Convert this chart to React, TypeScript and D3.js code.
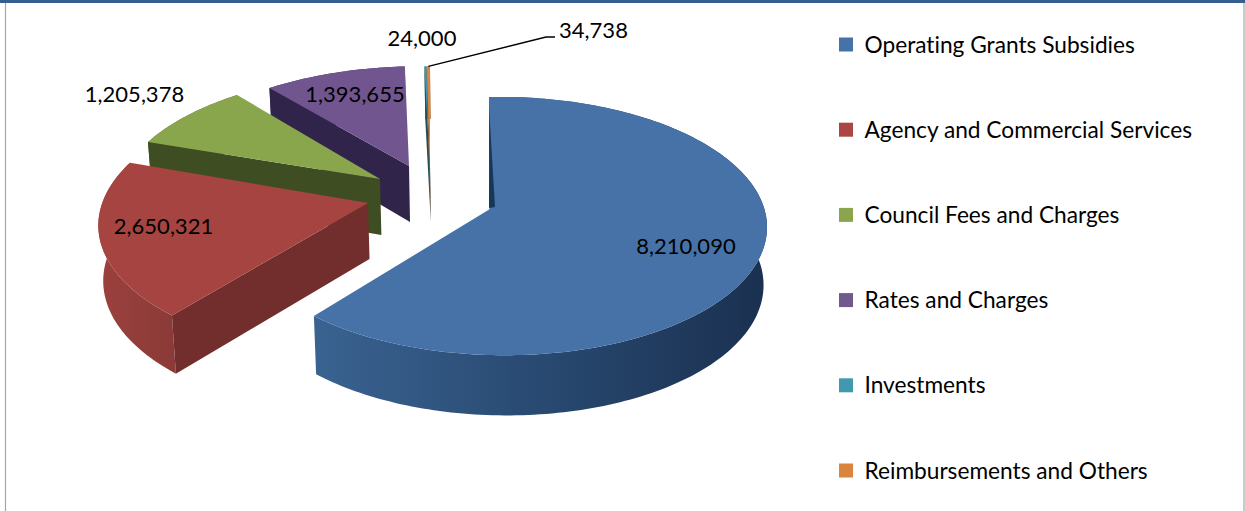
import React from "react";
import * as d3 from "d3";

// Revenue sources, in pie order (clockwise from twelve o'clock).
const categories = [
  "Operating Grants Subsidies",
  "Agency and Commercial Services",
  "Council Fees and Charges",
  "Rates and Charges",
  "Investments",
  "Reimbursements and Others",
];
const values = [8210090, 2650321, 1205378, 1393655, 24000, 34738];
const topColors = ["#4672a8", "#a64441", "#8aa64d", "#70558f", "#4198af", "#db843d"];
const wallColors = ["#2a4c74", "#722e2c", "#3f4d22", "#31244a", "#20505a", "#8a5020"];
const rimColors = ["url(#blueRim)", "url(#redRim)", "#4a5b28", "#3d2d5c", "#2f7485", "#a8642c"];
const legendColors = ["#4573a7", "#aa4644", "#89a54e", "#71588f", "#4198af", "#db843d"];

// Where each exploded wedge sits, how large it is drawn and how far it shears.
const anchors = [
  { cx: 490, cy: 209, kx: 1, ky: 1, skew: 1 },
  { cx: 368, cy: 203, kx: 1.06, ky: 1.05, skew: -11 },
  { cx: 380, cy: 179, kx: 1.03, ky: 0.96, skew: -8 },
  { cx: 409, cy: 166, kx: 0.975, ky: 0.89, skew: -2 },
  { cx: 430, cy: 165, kx: 0.88, ky: 0.88, skew: 0 },
  { cx: 430, cy: 165, kx: 0.88, ky: 0.88, skew: 0 },
];
const labelSpots = [
  { x: 686, y: 245 },
  { x: 163.5, y: 225 },
  { x: 134.5, y: 93 },
  { x: 355, y: 93 },
  { x: 422, y: 37 },
  { x: 593.5, y: 29 },
];

const WIDTH = 1245;
const HEIGHT = 511;
const RX = 262;
const RY = 126.8;
const THICK = 56;
const TILT = 0.132;
const LEAN = 0.045;
const VANISH_X = 490;
const CONVERGE = 0.0125;

type Pt = [number, number];

function scaleAt(angle: number, r: number): number {
  const x = Math.sin(angle) * r;
  const z = -Math.cos(angle) * r;
  return 1 / (1 - TILT * z - LEAN * x);
}

function topPoint(i: number, angle: number, r = 1): Pt {
  const { cx, cy, kx, ky, skew } = anchors[i];
  const x = Math.sin(angle) * r;
  const z = -Math.cos(angle) * r;
  const s = scaleAt(angle, r);
  return [cx + RX * kx * x * s + skew * z, cy + RY * ky * z * s];
}

function drop(i: number, angle: number, r = 1): Pt {
  const [x, y] = topPoint(i, angle, r);
  return [x + (VANISH_X - x) * CONVERGE, y + THICK * Math.sqrt(scaleAt(angle, r))];
}

const closed = d3.line<Pt>().curve(d3.curveLinearClosed);
const open = d3.line<Pt>();

function arcAngles(a0: number, a1: number): number[] {
  const n = Math.max(2, Math.ceil(Math.abs(a1 - a0) / 0.02));
  return d3.range(n + 1).map((t) => a0 + ((a1 - a0) * t) / n);
}

export default function App() {
  const arcs = d3.pie<number>().sort(null)(values);
  // Painter's order: the far slivers first, the large front wedge last.
  const order = [4, 5, 3, 2, 1, 0];

  const wedges = order.map((i) => {
    const { startAngle: a0, endAngle: a1 } = arcs[i];
    const angles = arcAngles(a0, a1);
    const apex = topPoint(i, 0, 0);
    const apexLow = drop(i, 0, 0);
    const top = closed([apex, ...angles.map((a) => topPoint(i, a))]);
    const rim = closed([
      ...angles.map((a) => topPoint(i, a)),
      ...angles.slice().reverse().map((a) => drop(i, a)),
    ]);
    const wall = closed([apex, apexLow, drop(i, a0), topPoint(i, a0)]);
    return (
      <g key={categories[i]}>
        <path d={rim ?? ""} fill={rimColors[i]} />
        <path d={wall ?? ""} fill={wallColors[i]} />
        <path d={top ?? ""} fill={topColors[i]} />
      </g>
    );
  });

  // Dark inner face peeking out along the twelve o'clock edge of the main wedge.
  const blueApex = topPoint(0, 0, 0);
  const blueOuter = topPoint(0, arcs[0].startAngle);
  const along = (t: number): Pt => [
    blueOuter[0] + (blueApex[0] - blueOuter[0]) * t,
    blueOuter[1] + (blueApex[1] - blueOuter[1]) * t,
  ];
  const innerFace = closed([
    along(0.22),
    [blueApex[0] - 1, blueApex[1] - 1],
    [blueApex[0] + 5, blueApex[1] - 2],
    along(0.1),
  ]);

  const legendY = d3.scalePoint<number>().domain(d3.range(categories.length)).range([44.5, 470.5]);
  const fmt = d3.format(",");
  const orange = arcs[5];
  const leaderStart = topPoint(5, (orange.startAngle + orange.endAngle) / 2);

  return (
    <svg
      width={WIDTH}
      height={HEIGHT}
      style={{
        position: "absolute",
        left: 0,
        top: 0,
        display: "block",
        background: "#fff",
        fontVariantLigatures: "none",
      }}
      fontFamily="Lato, Carlito, sans-serif"
    >
      <defs>
        <linearGradient id="blueRim" gradientUnits="userSpaceOnUse" x1={314} x2={767} y1={0} y2={0}>
          <stop offset="0" stopColor="#3a6391" />
          <stop offset="0.45" stopColor="#2a4c74" />
          <stop offset="1" stopColor="#1a3050" />
        </linearGradient>
        <linearGradient id="redRim" gradientUnits="userSpaceOnUse" x1={97} x2={176} y1={0} y2={0}>
          <stop offset="0" stopColor="#9c413e" />
          <stop offset="1" stopColor="#8a3a37" />
        </linearGradient>
      </defs>

      <rect x={0} y={0} width={WIDTH} height={3} fill="#365f91" />
      <line x1={5.5} x2={5.5} y1={3} y2={HEIGHT} stroke="#a6a6a6" strokeWidth={1.2} />
      <line x1={1244} x2={1244} y1={3} y2={HEIGHT} stroke="#a6a6a6" strokeWidth={1.2} />

      {wedges}
      <path d={innerFace ?? ""} fill="#17375a" />

      <path
        d={open([leaderStart, [546, 37], [555, 37]]) ?? ""}
        fill="none"
        stroke="#000"
        strokeWidth={1.3}
      />

      {values.map((v, i) => (
        <text
          key={i}
          x={labelSpots[i].x}
          y={labelSpots[i].y}
          textAnchor="middle"
          dominantBaseline="central"
          fontSize={22}
          fill="#000"
        >
          {fmt(v)}
        </text>
      ))}

      {categories.map((c, i) => (
        <g key={c}>
          <rect x={839} y={legendY(i)! - 7} width={14} height={14} fill={legendColors[i]} />
          <text x={864.5} y={legendY(i)! - 0.5} dominantBaseline="central" fontSize={22.7} fill="#000">
            {c}
          </text>
        </g>
      ))}
    </svg>
  );
}
